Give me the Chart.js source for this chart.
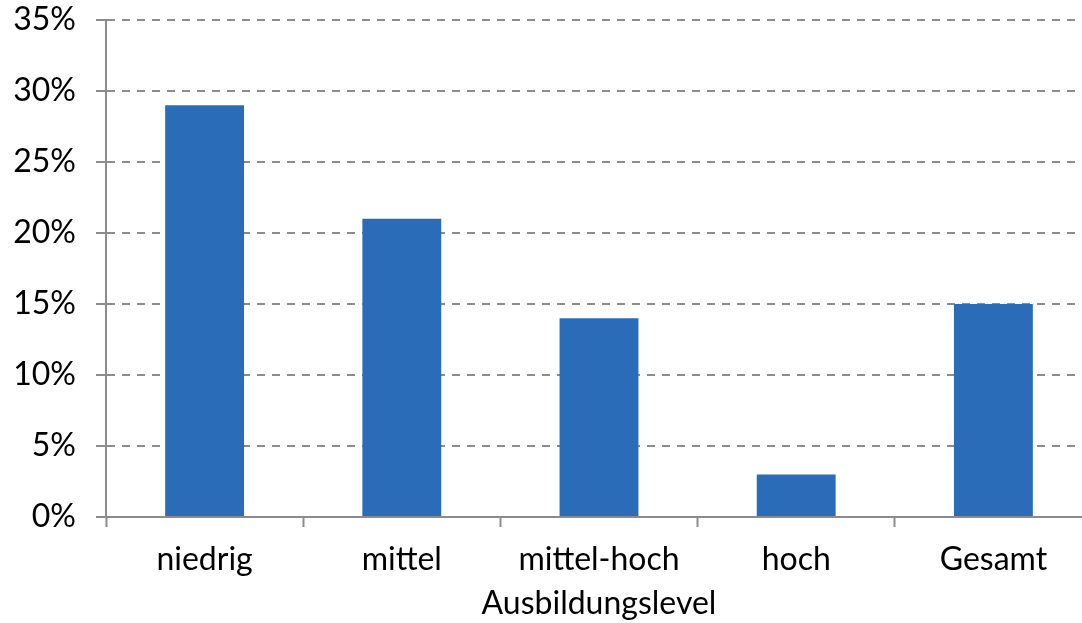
<!DOCTYPE html>
<html>
<head>
<meta charset="utf-8">
<script src="https://cdn.jsdelivr.net/npm/chart.js@4.4.1/dist/chart.umd.min.js"></script>
<style>
  html, body { margin: 0; padding: 0; background: #fff; overflow: hidden; }
  #wrap { width: 1092px; height: 623px; }
</style>
</head>
<body>
<div id="wrap"><canvas id="chart"></canvas></div>
<script>
// Anteil je Ausbildungslevel (in %)
const categories = ["niedrig", "mittel", "mittel-hoch", "hoch", "Gesamt"];
const shares = [29, 21, 14, 3, 15];
const yTicks = [0, 5, 10, 15, 20, 25, 30, 35];

const FONT = "Lato, 'Open Sans', sans-serif";
const GRID = "#8c8c8c";
const BAR = "#2b6cb8";

new Chart(document.getElementById("chart"), {
  type: "bar",
  data: {
    labels: categories,
    datasets: [
      {
        data: shares,
        backgroundColor: BAR,
        borderWidth: 0,
        categoryPercentage: 1,
        barPercentage: 0.4,
      },
    ],
  },
  options: {
    responsive: true,
    maintainAspectRatio: false,
    animation: false,
    layout: { padding: { top: 20, right: 0, bottom: 0, left: 0 } },
    plugins: { legend: { display: false }, tooltip: { enabled: false } },
    scales: {
      x: {
        offset: true,
        grid: {
          drawOnChartArea: false,
          tickLength: 10,
          tickColor: GRID,
          tickWidth: 2,
          offset: true,
        },
        border: { color: GRID, width: 2 },
        ticks: {
          color: "#000",
          padding: 13,
          font: { family: FONT, size: 32 },
          maxRotation: 0,
        },
        title: {
          display: true,
          text: "Ausbildungslevel",
          color: "#000",
          padding: { top: 0, bottom: 0 },
          font: { family: FONT, size: 32 },
        },
        afterFit: (s) => {
          s.height = 106;
          s.paddingLeft = 0;
          s.paddingRight = 0;
        },
      },
      y: {
        min: 0,
        max: 35,
        afterBuildTicks: (s) => { s.ticks = yTicks.map((v) => ({ value: v })); },
        grid: {
          color: GRID,
          lineWidth: 2,
          tickLength: 10,
          tickColor: GRID,
          tickWidth: 2,
        },
        border: { color: GRID, width: 2, dash: [8, 7] },
        ticks: {
          color: "#000",
          padding: 20,
          font: { family: FONT, size: 32 },
          callback: (v) => v + "%",
        },
        afterFit: (s) => {
          s.width = 106;
          s.paddingTop = 0;
          s.paddingBottom = 0;
        },
      },
    },
  },
});
</script>
</body>
</html>
